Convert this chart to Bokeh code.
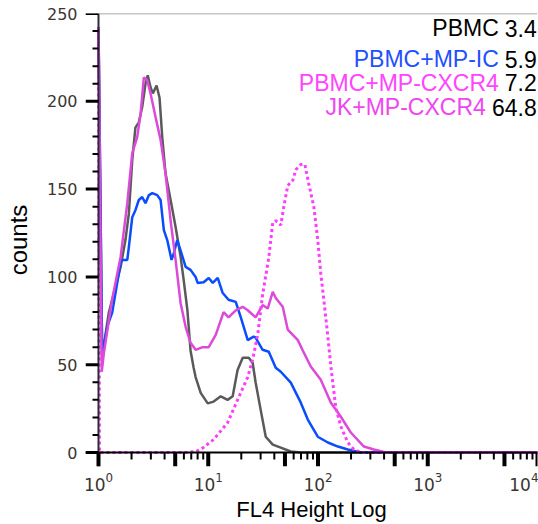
from bokeh.plotting import figure
from bokeh.models import (FixedTicker, SingleIntervalTicker, Span, Label, BoxAnnotation,
                          LogTickFormatter, Range1d)
from bokeh.embed import file_html
from bokeh.resources import INLINE

# ---------------- data ----------------
pbmc_x = [1.00, 1.08, 1.24, 1.43, 1.59, 1.76, 1.89, 2.03, 2.17, 2.33, 2.50, 2.68, 2.81, 2.98,
          3.13, 3.38, 3.60, 3.81, 4.08, 4.54, 5.04, 5.60, 5.97, 6.45, 6.90, 7.36, 7.67, 8.53,
          9.89, 11.2, 13.0, 15.0, 16.7, 18.5, 20.6, 23.4, 25.4, 27.0, 30.1, 33.4, 38.7, 45.8,
          56.5, 69.7, 10000]
pbmc_y = [242, 54.5, 79.5, 94.3, 105.7, 121, 136, 166.5, 185, 188, 196.6, 210, 214.8, 208,
          204.5, 209, 202, 179.5, 159, 143.8, 128.4, 111.4, 98.3, 81.3, 58, 48.3, 43, 34,
          28, 29, 32, 30, 32, 47, 54, 54, 51, 40, 24, 9, 4.5, 2.8,
          0.6, 0, 0]

ic_x = [1.00, 1.08, 1.20, 1.33, 1.43, 1.59, 1.64, 1.83, 1.89, 2.03, 2.17, 2.33, 2.50, 2.68,
        2.88, 3.09, 3.43, 3.68, 3.94, 4.23, 4.63, 4.86, 5.22, 5.60, 6.22, 6.90, 7.67, 8.00,
        9.08, 10.1, 11.0, 12.2, 13.5, 15.3, 17.8, 19.8, 22.9, 25.9, 27.0, 31.3, 35.6, 41.2,
        45.8, 56.5, 69.7, 80.7, 99.5, 123, 152, 187, 246, 10000]
ic_y = [242, 54.5, 71.6, 79.5, 90.9, 108, 109.7, 109.7, 117, 134, 138, 143.8, 145.5, 142,
        146.6, 147.7, 146.6, 143.8, 126.7, 121, 109.7, 113.6, 121, 115, 105.7, 104, 100, 96.6,
        97, 99.4, 96.6, 99.4, 91, 87, 85.8, 77, 64, 66, 65.5, 58.5, 57.4, 48.3,
        46, 39.8, 28.4, 18.8, 9, 5.7, 3.4, 1.7, 0, 0]

cx_x = [1.00, 1.07, 1.12, 1.33, 1.59, 1.83, 2.03, 2.25, 2.42, 2.59, 2.78, 2.98, 3.31, 3.68,
        4.08, 4.54, 5.04, 5.60, 6.22, 6.90, 7.67, 8.89, 10.1, 11.7, 13.8, 15.3, 17.8, 20.6,
        22.9, 27.0, 31.3, 34.8, 38.7, 41.2, 47.7, 53.0, 65.5, 74.1, 85.9, 106, 131, 161,
        199, 262, 323, 416, 10000]
cx_y = [242, 46, 56.8, 87, 111.4, 142, 170.5, 179.5, 193, 213.6, 212, 204.5, 191, 178,
        159, 132, 109.7, 85, 71.6, 62.5, 58.5, 60, 60, 67, 80, 77, 81, 83,
        81, 77, 84, 82, 91.5, 88, 83, 70, 64, 57, 49, 41.5, 28.4, 20.5,
        11.4, 3.4, 1.7, 0, 0]

jk_x = [1.00, 1.02, 6.22, 7.67, 8.53, 11.2, 15.0, 18.5, 22.9, 25.4, 28.2, 31.3, 35.6, 38.7,
        41.2, 45.8, 48.8, 53.0, 58.9, 62.7, 69.7, 75.9, 82.4, 91.6, 99.5, 106, 113, 123,
        131, 145, 161, 187, 212, 246, 10000]
jk_y = [242, 0, 0, 0.5, 1.7, 7.4, 17, 30, 43, 53, 67, 90, 111, 131,
        132, 129.5, 140, 152, 155, 161, 164, 164, 153, 140, 121, 102, 87, 66,
        49, 26, 15, 5.7, 1.7, 0, 0]

legend_names = ["PBMC", "PBMC+MP-IC", "PBMC+MP-CXCR4", "JK+MP-CXCR4"]
legend_values = ["3.4", "5.9", "7.2", "64.8"]

x_decades = [1, 10, 100, 1000, 10000]
x_thick = [1, 5, 10, 50, 100, 500, 1000, 5000, 10000]
x_minors = [m * d for d in [1, 10, 100, 1000] for m in [2, 3, 4, 6, 7, 8, 9]]
y_majors = [0, 50, 100, 150, 200, 250]
y_minors = [v for v in range(10, 250, 10) if v % 50 != 0]

# ---------------- styling ----------------
C_GRAY = "#5a5a5a"
C_BLUE = "#0a4cff"
C_MAG = "#dc4ad9"
C_MAG_DOT = "#ff3cff"
LEG_COLORS = ["#000000", "#1f50ff", "#ff45ff", "#f046f0"]
LEG_Y = [241.6, 224.0, 210.7, 196.5]
LEG_NUM_W = [38, 38, 38, 51]
LEG_X = 8330
LEG_SHIFT = 8

PX_PER_COUNT = 440 / 250.0      # plot height 440 px for 0..250
PX_PER_DECADE = 439 / 4.0       # plot width 439 px for 10^0..10^4
X_TICK_MAJOR, X_TICK_MINOR = 14, 7   # outward tick lengths (px)
Y_TICK_MAJOR, Y_TICK_MINOR = 13, 6
# the frame is extended by the tick lengths so the outward ticks can be drawn inside it
Y_LOW = -X_TICK_MAJOR / PX_PER_COUNT
X_LOW = 10 ** (-Y_TICK_MAJOR / PX_PER_DECADE)

p = figure(width=538, height=524, x_axis_type="log",
           x_range=Range1d(X_LOW, 10000), y_range=Range1d(Y_LOW, 250),
           output_backend="svg", toolbar_location=None,
           min_border_left=85, min_border_right=1, min_border_top=13, min_border_bottom=57)
p.outline_line_color = None
p.grid.visible = False

# axis lines
p.add_layout(Span(location=0, dimension="width", line_color="black", line_width=2))
p.add_layout(Span(location=1, dimension="height", line_color="#2c2c38", line_width=2))
p.add_layout(Span(location=250, dimension="width", line_color="#8c8c8c", line_width=1.5))


# tick marks as small filled boxes (sizes in pixels converted to data units)
def tick_box(left, right, bottom, top):
    p.add_layout(BoxAnnotation(left=left, right=right, bottom=bottom, top=top,
                               fill_color="black", fill_alpha=1.0, line_color=None,
                               level="overlay"))


for v in x_thick:
    half = 10 ** (2 / PX_PER_DECADE)
    tick_box(v / half, v * half, -X_TICK_MAJOR / PX_PER_COUNT, 0)
for v in x_minors:
    half = 10 ** (1 / PX_PER_DECADE)
    tick_box(v / half, v * half, -X_TICK_MINOR / PX_PER_COUNT, 0)
for v in y_majors:
    tick_box(10 ** (-Y_TICK_MAJOR / PX_PER_DECADE), 1, v - 1.5 / PX_PER_COUNT, v + 1.5 / PX_PER_COUNT)
for v in y_minors:
    tick_box(10 ** (-Y_TICK_MINOR / PX_PER_DECADE), 1, v - 1 / PX_PER_COUNT, v + 1 / PX_PER_COUNT)

# histograms
p.line(pbmc_x, pbmc_y, line_color=C_GRAY, line_width=2.5)
p.line(ic_x, ic_y, line_color=C_BLUE, line_width=2.5)
p.line(cx_x, cx_y, line_color=C_MAG, line_width=2.5)
p.line(jk_x, jk_y, line_color=C_MAG_DOT, line_width=3, line_dash="3 3")

# x axis (labels only; line and ticks drawn above)
xa = p.xaxis[0]
xa.ticker = FixedTicker(ticks=x_decades, minor_ticks=[])
xa.formatter = LogTickFormatter()
xa.major_tick_in = 0
xa.major_tick_out = 0
xa.minor_tick_in = 0
xa.minor_tick_out = 0
xa.major_tick_line_color = None
xa.minor_tick_line_color = None
xa.axis_line_color = None
xa.major_label_text_font = "DejaVu Sans"
xa.major_label_text_font_size = "17px"
xa.major_label_text_color = "#3a3530"
xa.major_label_standoff = 5
xa.axis_label = "FL4 Height Log"
xa.axis_label_text_font = "Liberation Sans"
xa.axis_label_text_font_size = "22px"
xa.axis_label_text_font_style = "normal"
xa.axis_label_text_color = "black"
xa.axis_label_standoff = 3

# y axis
ya = p.yaxis[0]
ya.ticker = SingleIntervalTicker(interval=50, num_minor_ticks=0)
ya.major_tick_in = 0
ya.major_tick_out = 0
ya.minor_tick_in = 0
ya.minor_tick_out = 0
ya.major_tick_line_color = None
ya.minor_tick_line_color = None
ya.axis_line_color = None
ya.major_label_text_font = "DejaVu Sans"
ya.major_label_text_font_size = "16px"
ya.major_label_text_color = "#3a3530"
ya.major_label_standoff = 8
ya.axis_label = "counts"
ya.axis_label_text_font = "Liberation Sans"
ya.axis_label_text_font_size = "24px"
ya.axis_label_text_font_style = "normal"
ya.axis_label_text_color = "black"
ya.axis_label_standoff = 12

for name, val, col, ly, nw in zip(legend_names, legend_values, LEG_COLORS, LEG_Y, LEG_NUM_W):
    p.add_layout(Label(x=LEG_X, y=ly, x_offset=LEG_SHIFT, text=val, text_align="right",
                       text_baseline="middle", text_font="Liberation Sans",
                       text_font_size="23px", text_color="black"))
    p.add_layout(Label(x=LEG_X, y=ly, x_offset=LEG_SHIFT - nw, text=name, text_align="right",
                       text_baseline="middle", text_font="Liberation Sans",
                       text_font_size="23px", text_color=col))

open("out.html", "w").write(file_html(p, INLINE))
